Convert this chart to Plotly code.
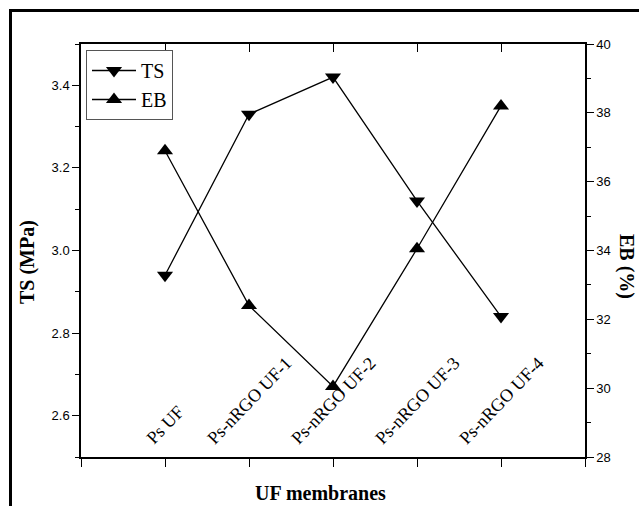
import plotly.graph_objects as go

categories = ["Ps UF", "Ps-nRGO UF-1", "Ps-nRGO UF-2", "Ps-nRGO UF-3", "Ps-nRGO UF-4"]
ts_values = [2.94, 3.33, 3.42, 3.12, 2.84]      # TS (MPa), left axis
eb_values = [36.9, 32.4, 30.05, 34.05, 38.2]     # EB (%), right axis
ts_ticks = [2.6, 2.8, 3.0, 3.2, 3.4]
eb_ticks = [28, 30, 32, 34, 36, 38, 40]

x_pos = list(range(1, len(categories) + 1))

W, H = 639, 506
L, R, T, B = 81, 54, 44, 49
pw, ph = W - L - R, H - T - B

def px_x(px):
    return (px - L) / pw

def px_y(py):
    return 1 - (py - T) / ph

serif = "Liberation Serif"
sans = "Liberation Sans"

fig = go.Figure()
fig.add_trace(go.Scatter(
    x=x_pos, y=ts_values, name="TS", mode="lines+markers",
    line=dict(color="black", width=1.3),
    marker=dict(symbol="triangle-down", size=14, color="black"),
    yaxis="y", xaxis="x"))
fig.add_trace(go.Scatter(
    x=x_pos, y=eb_values, name="EB", mode="lines+markers",
    line=dict(color="black", width=1.3),
    marker=dict(symbol="triangle-up", size=14, color="black"),
    yaxis="y2", xaxis="x"))

axis_common = dict(showgrid=False, zeroline=False, showline=True,
                   linecolor="black", linewidth=1.5, tickcolor="black",
                   tickwidth=1.3)

fig.update_layout(
    width=W, height=H,
    margin=dict(l=L, r=R, t=T, b=B),
    paper_bgcolor="white", plot_bgcolor="white",
    showlegend=True,
    legend=dict(x=px_x(86), y=px_y(50), xanchor="left", yanchor="top",
                bordercolor="#555555", borderwidth=1, bgcolor="white",
                font=dict(family=serif, size=20, color="black"),
                itemwidth=44, tracegroupgap=0),
    xaxis=dict(range=[0, 6], tickvals=[0, 1, 2, 3, 4, 5, 6],
               showticklabels=False, ticks="outside", ticklen=8,
               **axis_common),
    xaxis2=dict(range=[0, 6], tickvals=[0, 1, 2, 3, 4, 5, 6],
                showticklabels=False, ticks="inside", ticklen=8,
                overlaying="x", side="top", **axis_common),
    yaxis=dict(range=[2.5, 3.5], tickvals=ts_ticks, ticks="outside",
               ticklen=7, tickformat=".1f",
               tickfont=dict(family=sans, size=13, color="black"),
               minor=dict(dtick=0.2, tick0=2.5, ticks="outside", ticklen=4,
                          tickcolor="black", tickwidth=1.3, showgrid=False),
               **axis_common),
    yaxis2=dict(range=[28, 40], tickvals=eb_ticks, ticks="outside",
                ticklen=7, overlaying="y", side="right",
                tickfont=dict(family=sans, size=13, color="black"),
                minor=dict(dtick=2, tick0=29, ticks="outside", ticklen=4,
                           tickcolor="black", tickwidth=1.3, showgrid=False),
                **axis_common),
)

# invisible trace to activate the top axis
fig.add_trace(go.Scatter(x=[None], y=[None], xaxis="x2", yaxis="y",
                         showlegend=False, hoverinfo="skip"))

annotations = []
for xp, cat in zip(x_pos, categories):
    annotations.append(dict(
        x=xp, y=0, xref="x", yref="paper", text=cat, showarrow=False,
        textangle=-46, xanchor="center", yanchor="bottom", yshift=6,
        font=dict(family=serif, size=18, color="black")))

annotations.append(dict(
    x=px_x(27), y=px_y(262), xref="paper", yref="paper",
    text="<b>TS (MPa)</b>", showarrow=False, textangle=-90,
    xanchor="center", yanchor="middle",
    font=dict(family=serif, size=20, color="black")))
annotations.append(dict(
    x=px_x(627), y=px_y(266), xref="paper", yref="paper",
    text="<b>EB (%)</b>", showarrow=False, textangle=90,
    xanchor="center", yanchor="middle",
    font=dict(family=serif, size=20, color="black")))
annotations.append(dict(
    x=px_x(320), y=px_y(493), xref="paper", yref="paper",
    text="<b>UF membranes</b>", showarrow=False,
    xanchor="center", yanchor="middle",
    font=dict(family=serif, size=20, color="black")))

fig.update_layout(annotations=annotations)

# outer frame
fig.add_shape(type="rect", xref="paper", yref="paper",
              x0=px_x(10.5), x1=px_x(700), y0=px_y(560), y1=px_y(10.5),
              line=dict(color="black", width=3), fillcolor="rgba(0,0,0,0)",
              layer="above")

fig.write_html("out.html")
